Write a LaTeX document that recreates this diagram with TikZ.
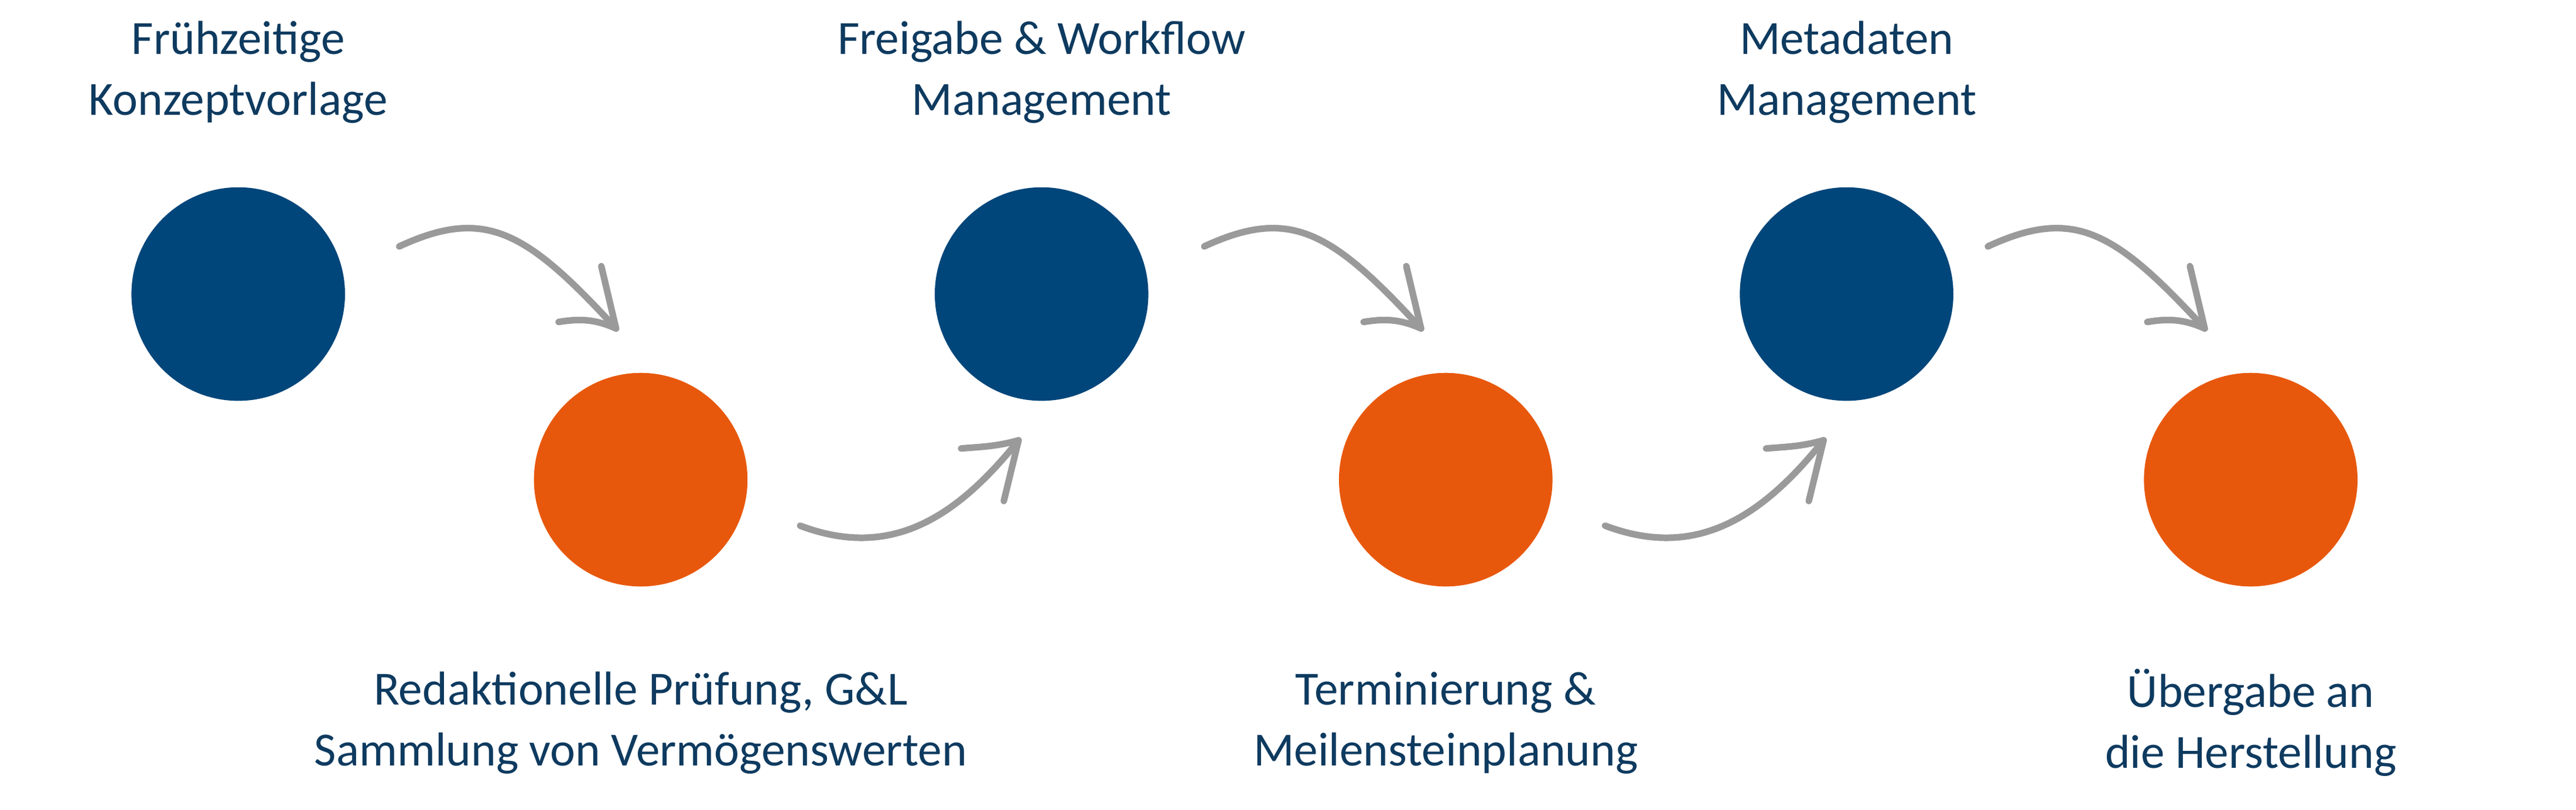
\documentclass[tikz,border=0pt]{standalone}
\usepackage{fontspec}
\setmainfont{Carlito}
\definecolor{navy}{HTML}{00467A}
\definecolor{orng}{HTML}{E8580C}
\definecolor{txt}{HTML}{0E3A5F}
\definecolor{arr}{HTML}{9A9A9A}
\begin{document}
\begin{tikzpicture}[x=1pt,y=-1pt,
  dot/.style={circle,minimum size=130pt,inner sep=0pt},
  lbl/.style={align=center,text=txt,font=\fontsize{29}{37}\selectfont},
  garr/.style={draw=arr,line width=4pt,line cap=round,line join=round}]
\useasboundingbox (0,0) rectangle (1568,493);
\node[dot,fill=navy] (c1) at (145,179) {};
\node[dot,fill=orng] (c2) at (390,292) {};
\node[dot,fill=navy] (c3) at (634,179) {};
\node[dot,fill=orng] (c4) at (880,292) {};
\node[dot,fill=navy] (c5) at (1124,179) {};
\node[dot,fill=orng] (c6) at (1370,292) {};
\node[lbl] (t1) at (145,44) {Frühzeitige\\Konzeptvorlage};
\node[lbl] (t3) at (634,44) {Freigabe \& Workflow\\Management};
\node[lbl] (t5) at (1124,44) {Metadaten\\Management};
\node[lbl] (t2) at (390,440) {Redaktionelle Prüfung, G\&L\\Sammlung von Vermögenswerten};
\node[lbl] (t4) at (880,440) {Terminierung \&\\Meilensteinplanung};
\node[lbl] (t6) at (1370,440) {Übergabe an\\die Herstellung};
\foreach \dx in {0,490,967}{
  \begin{scope}[xshift=\dx]
  \draw[garr] (243,150) .. controls (295,126) and (320,140) .. (375,200);
  \draw[garr] (366,162) -- (375,200) .. controls (362,194) and (352,194) .. (340,196);
  \end{scope}}
\foreach \dx in {0,490}{
  \begin{scope}[xshift=\dx]
  \draw[garr] (487,320) .. controls (540,340) and (580,318) .. (620,268);
  \draw[garr] (611,305) -- (620,268) .. controls (606,272) and (596,272) .. (585,273);
  \end{scope}}
\end{tikzpicture}
\end{document}
